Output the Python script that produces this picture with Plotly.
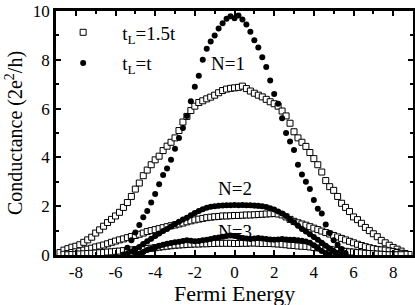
import numpy as np
import plotly.graph_objects as go

# ---------------- data ----------------
# N=1, t_L = t (filled circles)
x_n1_t = np.round(np.arange(-5.6, 5.61, 0.2), 2)
y_n1_t = [0.02, 0.3, 0.6, 0.92, 1.23, 1.55, 1.8, 2.15, 2.5, 2.9,
          3.28, 3.55, 3.9, 4.35, 4.8, 5.2, 5.7, 6.3, 6.9, 7.35,
          8.0, 8.45, 8.75, 9.0, 9.28, 9.5, 9.68, 9.78, 9.7, 9.82,
          9.65, 9.45, 9.15, 8.8, 8.5, 8.1, 7.7, 7.15, 6.6, 6.2,
          5.6, 5.0, 4.65, 4.3, 3.7, 3.3, 3.0, 2.7, 2.25, 1.9,
          1.7, 1.25, 0.9, 0.6, 0.42, 0.25, 0.08]

# N=1, t_L = 1.5t (open squares)
x_n1_15 = np.round(np.arange(-8.8, 8.81, 0.2), 2)
y_n1_15 = [0.1, 0.2, 0.26, 0.32, 0.36, 0.42, 0.52, 0.62, 0.73, 0.9,
           1.03, 1.18, 1.33, 1.46, 1.6, 1.75, 1.95, 2.15, 2.4, 2.7,
           2.95, 3.25, 3.48, 3.7, 3.9, 4.05, 4.28, 4.46, 4.62, 4.8,
           5.1, 5.45, 5.68, 5.92, 6.1, 6.25, 6.32, 6.4, 6.47, 6.55,
           6.65, 6.74, 6.8, 6.83, 6.85, 6.87, 6.92, 6.82, 6.72, 6.63,
           6.55, 6.48, 6.38, 6.28, 6.2, 6.1, 5.9, 5.7, 5.4, 5.05,
           4.8, 4.62, 4.45, 4.2, 3.95, 3.7, 3.4, 3.05, 2.8, 2.65,
           2.4, 2.12, 1.95, 1.78, 1.56, 1.45, 1.3, 1.13, 1.0, 0.87,
           0.75, 0.6, 0.5, 0.4, 0.31, 0.24, 0.16, 0.06, 0.02]

# N=2, t_L = t
x_n2_t = np.round(np.arange(-5.6, 5.61, 0.2), 2)
y_n2_t = [0.0, 0.05, 0.14, 0.24, 0.33, 0.45, 0.56, 0.67, 0.78, 0.88,
          0.98, 1.07, 1.17, 1.27, 1.36, 1.45, 1.53, 1.63, 1.72, 1.8,
          1.88, 1.94, 1.98, 2.0, 2.02, 2.03, 2.04, 2.04, 2.05, 2.04,
          2.05, 2.04, 2.04, 2.03, 2.02, 2.0, 1.97, 1.92, 1.86, 1.78,
          1.7, 1.6, 1.46, 1.34, 1.2, 1.07, 0.96, 0.85, 0.74, 0.62,
          0.5, 0.38, 0.26, 0.16, 0.08, 0.03, 0.0]

# N=2, t_L = 1.5t
x_n2_15 = np.round(np.arange(-8.6, 8.61, 0.2), 2)
y_n2_15 = [0.03, 0.06, 0.1, 0.13, 0.16, 0.2, 0.24, 0.28, 0.33, 0.37,
           0.41, 0.46, 0.52, 0.57, 0.62, 0.66, 0.71, 0.76, 0.8, 0.85,
           0.9, 0.96, 1.0, 1.04, 1.08, 1.12, 1.16, 1.2, 1.23, 1.27,
           1.31, 1.36, 1.4, 1.44, 1.47, 1.5, 1.53, 1.55, 1.57, 1.58,
           1.6, 1.6, 1.61, 1.62, 1.62, 1.63, 1.64, 1.64, 1.65, 1.66,
           1.67, 1.68, 1.69, 1.7, 1.68, 1.64, 1.56, 1.46, 1.38, 1.32,
           1.27, 1.22, 1.16, 1.1, 1.04, 0.98, 0.92, 0.86, 0.8, 0.74,
           0.68, 0.62, 0.56, 0.5, 0.44, 0.39, 0.34, 0.3, 0.26, 0.23,
           0.21, 0.2, 0.17, 0.14, 0.1, 0.07, 0.03]

# N=3, t_L = t
x_n3_t = np.round(np.arange(-5.0, 4.81, 0.2), 2)
y_n3_t = [0.0, 0.05, 0.12, 0.2, 0.26, 0.32, 0.38, 0.42, 0.46, 0.49,
          0.52, 0.54, 0.57, 0.6, 0.58, 0.56, 0.57, 0.6, 0.63, 0.66,
          0.7, 0.72, 0.75, 0.78, 0.8, 0.78, 0.74, 0.7, 0.68, 0.66,
          0.68, 0.7, 0.68, 0.66, 0.64, 0.63, 0.64, 0.66, 0.64, 0.62,
          0.62, 0.6, 0.58, 0.55, 0.5, 0.4, 0.28, 0.16, 0.07, 0.02]

# N=3, t_L = 1.5t
x_n3_15 = np.round(np.arange(-8.4, 8.41, 0.2), 2)
y_n3_15 = [0.01, 0.02, 0.03, 0.04, 0.05, 0.06, 0.07, 0.08, 0.09, 0.1,
           0.12, 0.13, 0.15, 0.16, 0.18, 0.19, 0.21, 0.22, 0.24, 0.25,
           0.27, 0.28, 0.3, 0.32, 0.34, 0.36, 0.38, 0.4, 0.41, 0.42,
           0.43, 0.44, 0.45, 0.45, 0.46, 0.46, 0.47, 0.47, 0.48, 0.48,
           0.48, 0.48, 0.47, 0.47, 0.48, 0.48, 0.49, 0.49, 0.48, 0.47,
           0.47, 0.47, 0.46, 0.45, 0.44, 0.42, 0.4, 0.39, 0.37, 0.36,
           0.35, 0.33, 0.31, 0.29, 0.27, 0.25, 0.23, 0.21, 0.19, 0.17,
           0.15, 0.13, 0.12, 0.1, 0.09, 0.07, 0.06, 0.05, 0.04, 0.03,
           0.02, 0.01, 0.01, 0.01, 0.01]

x_tickvals = [-8, -6, -4, -2, 0, 2, 4, 6, 8]
x_ticktext = ["-8", "-6", "-4", "-2", "0", "2", "4", "6", "8"]
y_tickvals = [0, 2, 4, 6, 8, 10]
y_ticktext = ["0", "2", "4", "6", "8", "10"]

PAD = "\u00a0" * 4
legend_names = [PAD + "t<sub>L</sub>=1.5t", PAD + "t<sub>L</sub>=t"]
labels = ["N=1", "N=2", "N=3"]
label_x = [-0.35, 0.0, 0.0]
label_y = [7.85, 2.72, 0.98]
x_title = "Fermi Energy"
y_title = "Conductance (2e<sup>2</sup>/h)"

FONT = "'Liberation Serif', 'Times New Roman', Times, serif"

fig = go.Figure()

sq_fill = dict(symbol="square", size=6, color="white", line=dict(width=1, color="black"))
circ = dict(symbol="circle", size=6, color="black", line=dict(width=0))

# squares (t_L = 1.5t)
for i, (xs, ys) in enumerate([(x_n1_15, y_n1_15), (x_n2_15, y_n2_15), (x_n3_15, y_n3_15)]):
    fig.add_trace(go.Scatter(x=xs, y=ys, mode="markers", marker=sq_fill,
                             name=legend_names[0], legendgroup="a",
                             showlegend=(i == 0)))
# circles (t_L = t)
fig.add_trace(go.Scatter(x=x_n1_t, y=y_n1_t, mode="markers", marker=circ,
                         name=legend_names[1], legendgroup="b", showlegend=True))
for xs, ys in [(x_n2_t, y_n2_t), (x_n3_t, y_n3_t)]:
    fig.add_trace(go.Scatter(x=xs, y=ys, mode="lines+markers", marker=circ,
                             line=dict(color="black", width=4),
                             name=legend_names[1], legendgroup="b", showlegend=False))

for t, lx, ly in zip(labels, label_x, label_y):
    fig.add_annotation(x=lx, y=ly, text=t, showarrow=False,
                       font=dict(family=FONT, size=19, color="black"))

# x-axis title as a paper-anchored annotation, just below the tick labels
fig.add_annotation(x=0.5, y=0, xref="paper", yref="paper", xanchor="center", yanchor="top",
                   yshift=-24, text=x_title, showarrow=False,
                   font=dict(family=FONT, size=22, color="black"))

axis_common = dict(
    showgrid=False, zeroline=False, showline=True, linecolor="black", linewidth=2.5,
    mirror="allticks", ticks="inside", ticklen=5, tickwidth=2, tickcolor="black",
    tickfont=dict(family=FONT, size=17, color="black"), automargin=False,
)

fig.update_xaxes(range=[-9, 9], tickvals=x_tickvals, ticktext=x_ticktext,
                 minor=dict(dtick=1, tick0=0, ticks="inside", ticklen=3, tickwidth=2, tickcolor="black"),
                 **axis_common)
fig.update_yaxes(range=[0, 10], tickvals=y_tickvals, ticktext=y_ticktext,
                 minor=dict(dtick=1, tick0=0, ticks="inside", ticklen=3, tickwidth=2, tickcolor="black"),
                 title=dict(text=y_title, font=dict(family=FONT, size=20, color="black"), standoff=5),
                 **axis_common)

fig.update_layout(
    width=415, height=305,
    margin=dict(l=56, r=2, t=11, b=50),
    paper_bgcolor="white", plot_bgcolor="white",
    font=dict(family=FONT, color="black"),
    showlegend=True,
    legend=dict(x=0.02, y=0.99, xanchor="left", yanchor="top",
                bgcolor="rgba(0,0,0,0)", font=dict(family=FONT, size=19, color="black"),
                tracegroupgap=3, itemsizing="trace"),
)

fig.write_html("out.html", config={"displayModeBar": False},
               post_script="document.body.style.margin='0';document.body.style.padding='0';")
